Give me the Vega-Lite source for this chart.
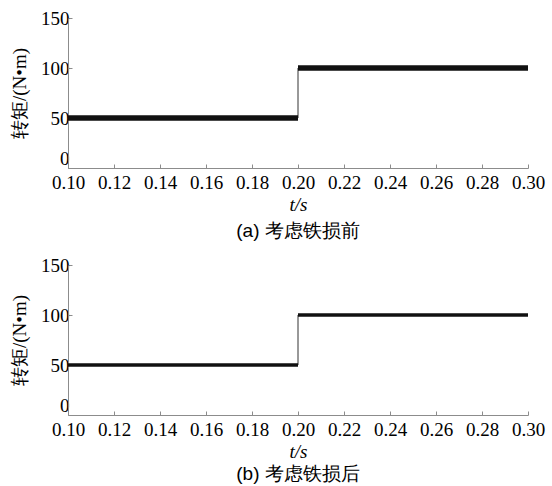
{
  "$schema": "https://vega.github.io/schema/vega-lite/v6.json",
  "bounds": "flush",
  "spacing": 97,
  "padding": {"left": 10, "top": 9, "right": 5, "bottom": 5},
  "background": "white",
  "datasets": {
    "stepA": [
      {"t": 0.1, "T": 50}, {"t": 0.2, "T": 50}, {"t": 0.2, "T": 100}, {"t": 0.3, "T": 100}
    ],
    "bandA": [
      {"t0": 0.1, "t1": 0.2, "T": 50}, {"t0": 0.2, "t1": 0.3, "T": 100}
    ],
    "stepB": [
      {"t": 0.1, "T": 50}, {"t": 0.2, "T": 50}, {"t": 0.2, "T": 100}, {"t": 0.3, "T": 100}
    ],
    "bandB": [
      {"t0": 0.1, "t1": 0.2, "T": 50}, {"t0": 0.2, "t1": 0.3, "T": 100}
    ]
  },
  "config": {
    "view": {"stroke": null},
    "axis": {
      "domainColor": "#8c8c8c",
      "tickColor": "#8c8c8c",
      "tickSize": -4,
      "grid": false,
      "labelFont": "Liberation Serif",
      "labelFontSize": 19,
      "labelColor": "black",
      "labelOverlap": false,
      "labelFlush": false,
      "titleColor": "black",
      "titleFontWeight": "normal"
    }
  },
  "vconcat": [
    {
      "width": 460,
      "height": 150,
      "title": {"text": "(a) 考虑铁损前", "orient": "bottom", "anchor": "middle", "offset": 8, "font": "Liberation Sans", "fontSize": 19, "fontWeight": "normal", "color": "black"},
      "encoding": {
        "x": {"field": "t", "type": "quantitative", "scale": {"domain": [0.1, 0.3], "nice": false, "zero": false},
          "axis": {"values": [0.1, 0.12, 0.14, 0.16, 0.18, 0.2, 0.22, 0.24, 0.26, 0.28, 0.3], "format": ".2f", "labelPadding": 9, "title": "t/s", "titleFont": "Liberation Serif", "titleFontSize": 19, "titleFontStyle": "italic", "titlePadding": 3}},
        "y": {"field": "T", "type": "quantitative", "scale": {"domain": [0, 150], "nice": false},
          "axis": {"values": [0, 50, 100, 150], "labelPadding": 3, "labelBaseline": {"condition": {"test": "datum.value == 0", "value": "bottom"}, "value": "middle"}, "title": "转矩/(N•m)", "titleFont": "Liberation Serif", "titleFontSize": 19, "titlePadding": 11}}
      },
      "layer": [
        {"data": {"name": "stepA"}, "mark": {"type": "line", "color": "#333", "strokeWidth": 1}},
        {"data": {"name": "bandA"}, "mark": {"type": "rule", "color": "#111", "strokeWidth": 5.5},
          "encoding": {"x": {"field": "t0", "type": "quantitative"}, "x2": {"field": "t1"}, "y": {"field": "T", "type": "quantitative"}}}
      ]
    },
    {
      "width": 460,
      "height": 150,
      "title": {"text": "(b) 考虑铁损后", "orient": "bottom", "anchor": "middle", "offset": 4, "font": "Liberation Sans", "fontSize": 19, "fontWeight": "normal", "color": "black"},
      "encoding": {
        "x": {"field": "t", "type": "quantitative", "scale": {"domain": [0.1, 0.3], "nice": false, "zero": false},
          "axis": {"values": [0.1, 0.12, 0.14, 0.16, 0.18, 0.2, 0.22, 0.24, 0.26, 0.28, 0.3], "format": ".2f", "labelPadding": 9, "title": "t/s", "titleFont": "Liberation Serif", "titleFontSize": 19, "titleFontStyle": "italic", "titlePadding": 3}},
        "y": {"field": "T", "type": "quantitative", "scale": {"domain": [0, 150], "nice": false},
          "axis": {"values": [0, 50, 100, 150], "labelPadding": 3, "labelBaseline": {"condition": {"test": "datum.value == 0", "value": "bottom"}, "value": "middle"}, "title": "转矩/(N•m)", "titleFont": "Liberation Serif", "titleFontSize": 19, "titlePadding": 11}}
      },
      "layer": [
        {"data": {"name": "stepB"}, "mark": {"type": "line", "color": "#333", "strokeWidth": 1}},
        {"data": {"name": "bandB"}, "mark": {"type": "rule", "color": "#111", "strokeWidth": 3.5},
          "encoding": {"x": {"field": "t0", "type": "quantitative"}, "x2": {"field": "t1"}, "y": {"field": "T", "type": "quantitative"}}}
      ]
    }
  ]
}
